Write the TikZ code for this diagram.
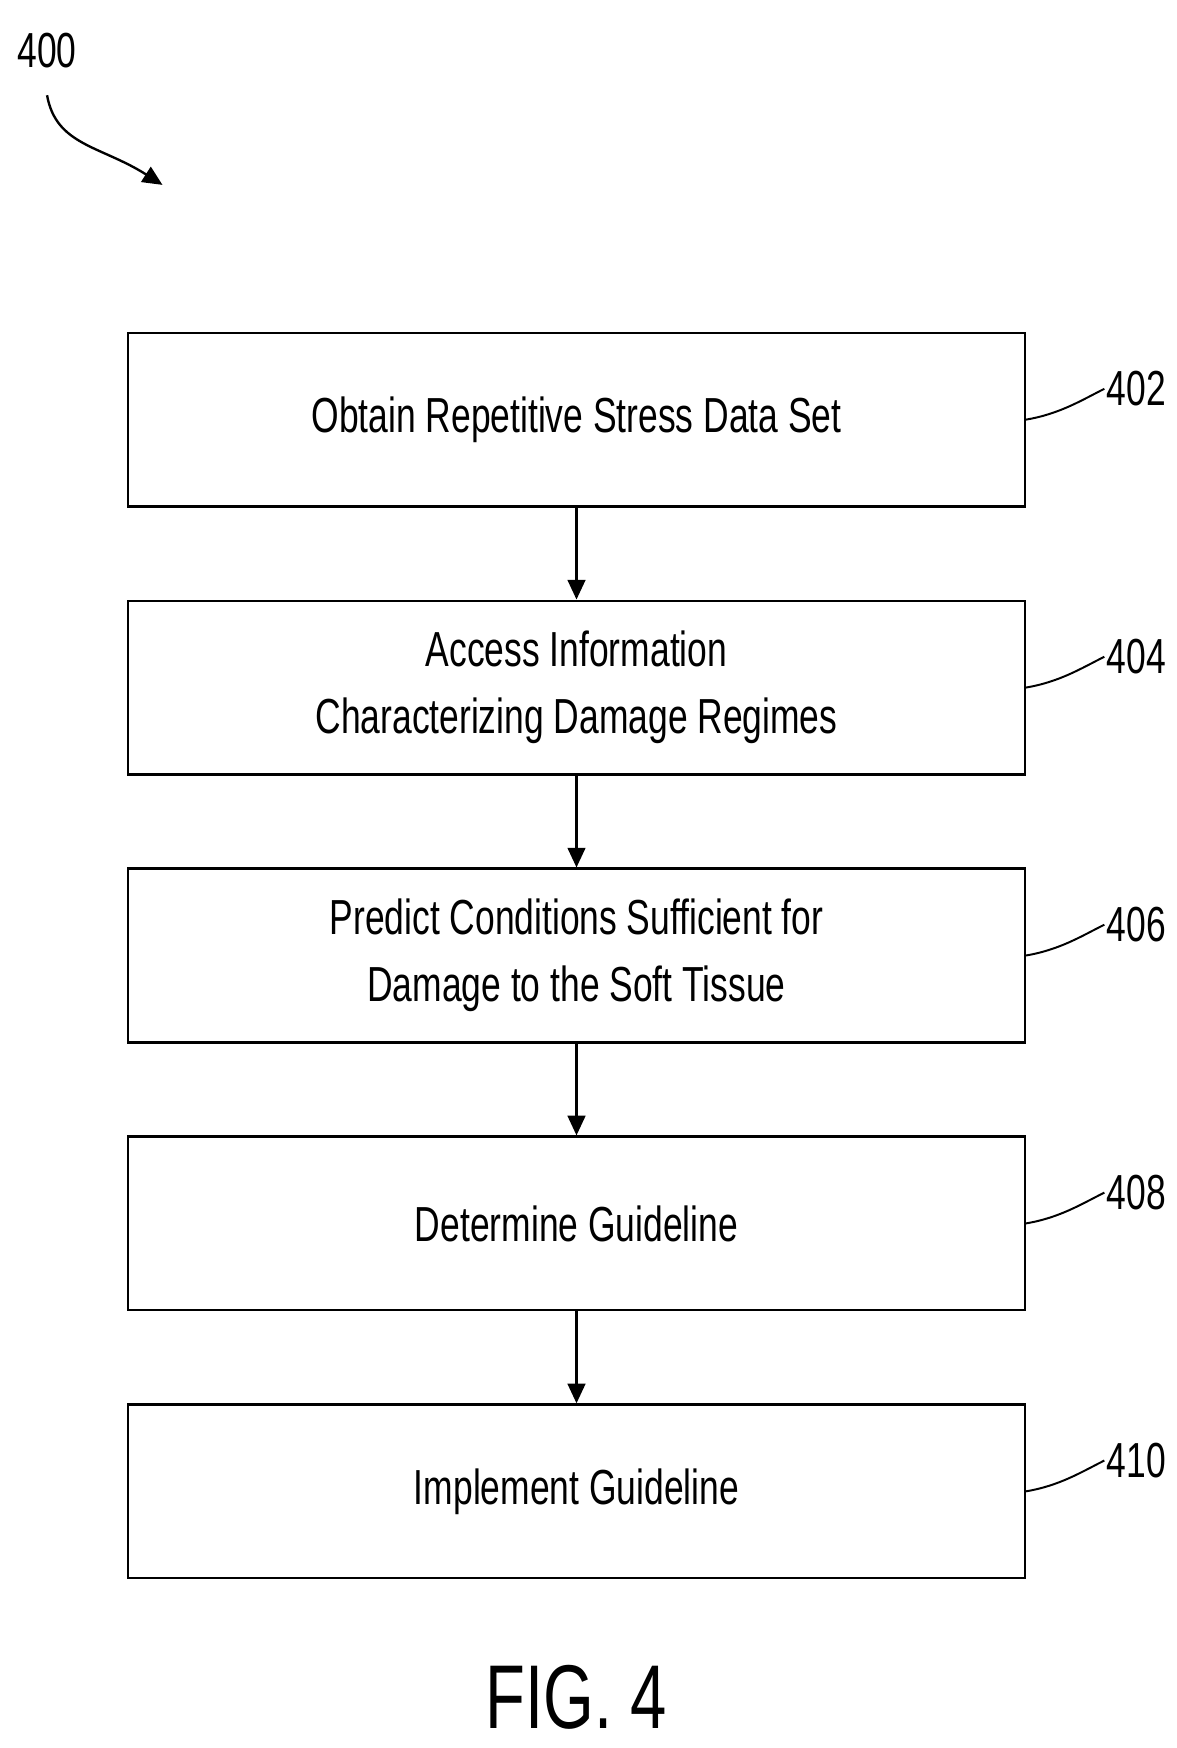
\documentclass[tikz,border=0pt]{standalone}
\usepackage{fontspec}
\setmainfont{Liberation Sans}[FakeStretch=0.72]
\usetikzlibrary{positioning,arrows.meta}
\begin{document}
\begin{tikzpicture}[font=\fontsize{25}{34}\selectfont,
  stepbox/.style={draw, line width=1.2pt, minimum width=16.0cm, minimum height=3.1cm, align=center},
  flow/.style={-{Triangle[length=10pt,width=9pt]}, line width=1.2pt},
  ref/.style={anchor=west, inner sep=1pt}]
\useasboundingbox (0,0) rectangle (21,-31.2);

% label 400
\node (n400) at (0.84,-0.9) {400};
\coordinate (a400) at (2.9,-3.3);
\draw [flow] (0.84,-1.7) .. controls (1.0,-2.6) and (1.8,-2.6) .. (a400);

% steps
\node [stepbox] (s402) at (10.29,-7.49) {Obtain Repetitive Stress Data Set};
\node [stepbox, below=1.64cm of s402] (s404) {Access Information\\Characterizing Damage Regimes};
\node [stepbox, below=1.64cm of s404] (s406) {Predict Conditions Sufficient for\\Damage to the Soft Tissue};
\node [stepbox, below=1.64cm of s406] (s408) {Determine Guideline};
\node [stepbox, below=1.64cm of s408] (s410) {Implement Guideline};

% arrows
\draw [flow] (s402) -- (s404);
\draw [flow] (s404) -- (s406);
\draw [flow] (s406) -- (s408);
\draw [flow] (s408) -- (s410);

% reference numbers
\foreach \n in {402,404,406,408,410} {
  \node [ref] (r\n) at ([xshift=1.4cm,yshift=0.55cm]s\n.east) {\n};
  \draw [line width=1pt] (s\n.east) .. controls +(0.6,0.1) and +(-0.4,-0.2) .. (r\n.west);
}

% caption
\node (fig) at (10.29,-30.3) {\fontsize{46}{50}\selectfont FIG. 4};
\end{tikzpicture}
\end{document}
